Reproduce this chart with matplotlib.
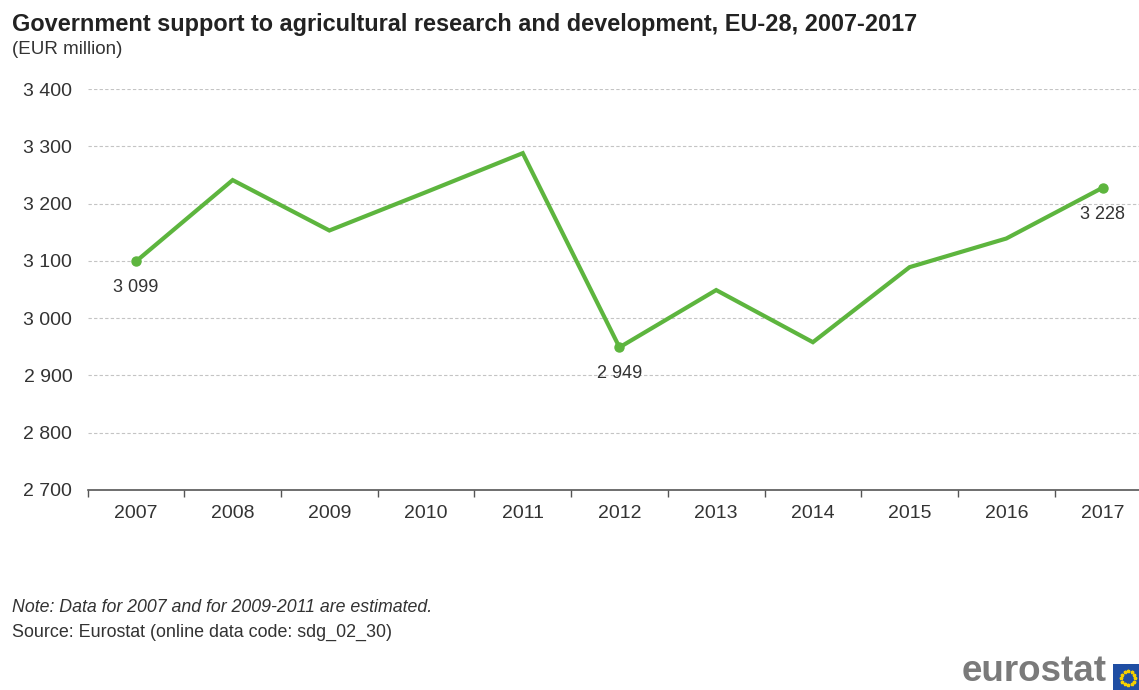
from matplotlib import pyplot as plt, patches
import numpy as np

plt.rcParams['font.family'] = ['Liberation Sans', 'DejaVu Sans']

years = ['2007', '2008', '2009', '2010', '2011', '2012', '2013', '2014', '2015', '2016', '2017']
values = [3099, 3241, 3153, 3220, 3288, 2949, 3049, 2958, 3089, 3139, 3228]
labelled = ['2007', '2012', '2017']
y_ticks = [2700, 2800, 2900, 3000, 3100, 3200, 3300, 3400]

green = '#5db53e'
text_col = '#333333'

fig = plt.figure(figsize=(11.39, 6.90), dpi=100)
W, H = 1139, 690
ax = fig.add_axes([87.6 / W, 1 - 490 / H, (W - 87.6) / W, (490 - 89) / H])

x = np.arange(len(years))
ax.plot(x, values, color=green, lw=3.0, solid_joinstyle='miter', zorder=3)

for yr in labelled:
    i = years.index(yr)
    ax.plot(x[i], values[i], 'o', color=green, ms=6.5, zorder=4)
    ax.annotate(f'{values[i]:,}'.replace(',', ' '), xy=(x[i], values[i]),
                xytext=(0, -13), textcoords='offset points',
                ha='center', va='top', fontsize=13, color=text_col)

ax.set_xlim(-0.5, (W - 136) / 96.7)
ax.set_ylim(2700, 3400)

ax.set_yticks(y_ticks)
ax.set_yticklabels([f'{v:,}'.replace(',', ' ') for v in y_ticks])
ax.tick_params(axis='y', length=0, pad=11, labelsize=14, labelcolor=text_col)
for v in y_ticks[1:]:
    ax.axhline(v, color='#c4c4c4', lw=0.8, ls=(0, (3, 2)), zorder=1)

ax.set_xticks(np.arange(len(years)) - 0.5)
ax.set_xticklabels([])
ax.set_xticks(x, minor=True)
ax.set_xticklabels(years, minor=True)
ax.tick_params(axis='x', which='major', length=5, width=1, color='#555555', direction='out')
ax.tick_params(axis='x', which='minor', length=0, pad=11, labelsize=14, labelcolor=text_col)

for s in ['top', 'right', 'left']:
    ax.spines[s].set_visible(False)
ax.spines['bottom'].set_color('#555555')
ax.spines['bottom'].set_linewidth(1.2)

fig.text(12 / W, 1 - 25 / H, 'Government support to agricultural research and development, EU-28, 2007-2017',
         fontsize=16.9, fontweight='bold', color='#222222', va='center')
fig.text(12 / W, 1 - 50 / H, '(EUR million)', fontsize=13.5, color=text_col, va='center')

fig.text(12 / W, 1 - 607 / H, 'Note: Data for 2007 and for 2009-2011 are estimated.',
         fontsize=12.8, style='italic', color=text_col, va='center')
fig.text(12 / W, 1 - 632 / H, 'Source: Eurostat (online data code: sdg_02_30)',
         fontsize=12.9, color=text_col, va='center')

# eurostat logo
fig.text(1107 / W, 1 / H, 'eurostat', fontsize=26.5, fontweight='bold', color='#7a7a7a',
         ha='right', va='bottom')
flag = patches.Rectangle((1113 / W, 0), 30 / W, 26 / H, transform=fig.transFigure,
                         facecolor='#1f4ea3', edgecolor='none')
fig.patches.append(flag)
ang = np.linspace(0, 2 * np.pi, 12, endpoint=False)
fig.lines.append(plt.Line2D((1128 + 7 * np.cos(ang)) / W, (12 + 7 * np.sin(ang)) / H,
                            transform=fig.transFigure, ls='none', marker='*', ms=2.5,
                            color='#f5d000'))

fig.savefig('out.png', dpi=100)
